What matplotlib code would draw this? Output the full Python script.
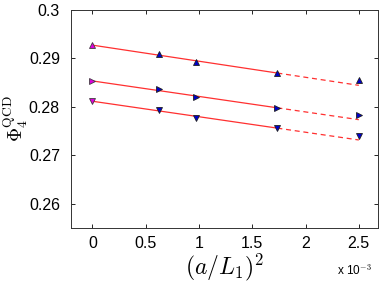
import numpy as np
import matplotlib
matplotlib.use("Agg")
import matplotlib.pyplot as plt

plt.rcParams['font.family'] = ['Liberation Sans', 'DejaVu Sans']
plt.rcParams['mathtext.fontset'] = 'cm'

# x = (a/L1)^2 in units of 1e-3
L_values = [40, 32, 24, 20]
x_pts = [1e3 / L**2 for L in L_values]
x_cont = 0.0

series_up = [0.2910, 0.2893, 0.2870, 0.2856]
series_right = [0.2836, 0.2821, 0.2798, 0.2783]
series_down = [0.2793, 0.2778, 0.2756, 0.2739]
cont_values = [0.29275, 0.28536, 0.28117]

fit_intercepts = [0.29275, 0.28536, 0.28117]
fit_slopes = [-0.00332, -0.00320, -0.00320]  # per 1e-3 in x
fit_solid_end = 1e3 / 24**2
fit_dash_end = 1e3 / 20**2

markers = ['^', '>', 'v']
all_series = [series_up, series_right, series_down]

fig = plt.figure(figsize=(3.82, 2.87), dpi=100)
ax = fig.add_axes([71/382, 1 - 228/287, (378-71)/382, (228-10)/287])

for s, m, c, b, k in zip(all_series, markers, cont_values, fit_intercepts, fit_slopes):
    xs = np.array([0.0, fit_solid_end])
    ax.plot(xs, b + k * xs, '-', color='#ff3030', lw=0.9, zorder=2)
    xd = np.array([fit_solid_end, fit_dash_end])
    ax.plot(xd, b + k * xd, '--', color='#ff3030', lw=0.9, dashes=(4, 3), zorder=2)
    ax.plot(x_pts, s, m, ms=4.5, mfc='#0000cc', mec='#202020', mew=0.6, ls='none', zorder=3)
    ax.plot([x_cont], [c], m, ms=4.5, mfc='#dd00dd', mec='#404040', mew=0.6, ls='none', zorder=3)

ax.set_xlim(-0.2, 2.68)
ax.set_ylim(0.255, 0.3)
ax.set_xticks([0, 0.5, 1, 1.5, 2, 2.5])
ax.set_xticklabels(['0', '0.5', '1', '1.5', '2', '2.5'])
ax.set_yticks([0.26, 0.27, 0.28, 0.29, 0.3])
ax.set_yticklabels(['0.26', '0.27', '0.28', '0.29', '0.3'])
ax.tick_params(direction='in', top=True, right=True, labelsize=11.5, length=3, width=0.6)
ax.tick_params(axis='y', pad=8)
ax.tick_params(axis='x', pad=6)
for sp in ax.spines.values():
    sp.set_linewidth(0.7)
    sp.set_color('#333333')

ax.set_xlabel(r'$(a/L_1)^2$', fontsize=17, labelpad=0)
ax.set_ylabel(r'$\Phi_4^{\rm QCD}$', fontsize=14)
ax.yaxis.set_label_coords(-0.135, 0.5)
fig.text(337/382, 1 - 275/287, r'x 10$^{-3}$', fontsize=8.5)

fig.savefig('out.png', dpi=100)
